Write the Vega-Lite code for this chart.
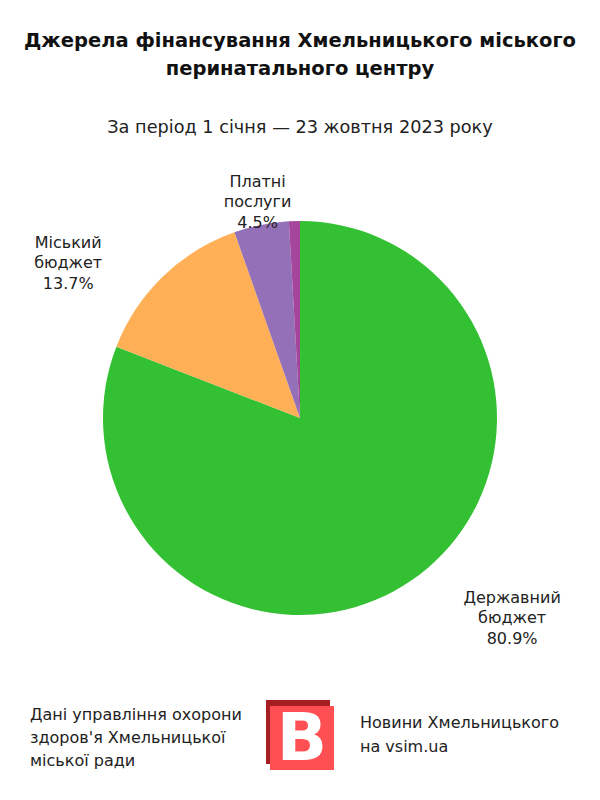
{
  "$schema": "https://vega.github.io/schema/vega-lite/v6.json",
  "background": "white",
  "padding": {"left": 0, "right": 0, "top": 30, "bottom": 0},
  "config": {
    "view": {"stroke": null},
    "concat": {"spacing": 0},
    "font": "DejaVu Sans",
    "text": {"font": "DejaVu Sans", "color": "#222222"}
  },
  "datasets": {
    "sources": [
      {"name": "Державний бюджет", "share": 80.9, "rank": 1},
      {"name": "Міський бюджет", "share": 13.7, "rank": 2},
      {"name": "Платні послуги", "share": 4.5, "rank": 3},
      {"name": "Інші надходження", "share": 0.9, "rank": 4}
    ],
    "footer": [
      {"block": "source", "text": "Дані управління охорони\nздоров'я Хмельницької\nміської ради"},
      {"block": "brand", "text": "Новини Хмельницького\nна vsim.ua"}
    ],
    "logo": [
      {"block": "logo", "text": "B"}
    ]
  },
  "vconcat": [
    {
      "title": {
        "text": ["Джерела фінансування Хмельницького міського", "перинатального центру"],
        "subtitle": "За період 1 січня — 23 жовтня 2023 року",
        "font": "DejaVu Sans",
        "fontSize": 19.5,
        "fontWeight": "bold",
        "color": "#111111",
        "lineHeight": 28,
        "subtitleFont": "DejaVu Sans",
        "subtitleFontSize": 17.7,
        "subtitleColor": "#222222",
        "subtitlePadding": 40,
        "anchor": "middle",
        "offset": 10
      },
      "width": 600,
      "height": 540,
      "data": {"name": "sources"},
      "layer": [
        {
          "mark": {"type": "arc", "outerRadius": 197},
          "encoding": {
            "theta": {"field": "share", "type": "quantitative", "stack": true},
            "order": {"field": "rank", "type": "quantitative"},
            "color": {
              "field": "name",
              "type": "nominal",
              "scale": {
                "domain": ["Державний бюджет", "Міський бюджет", "Платні послуги", "Інші надходження"],
                "range": ["#33c133", "#ffb056", "#9470b8", "#a4479c"]
              },
              "legend": null
            }
          }
        },
        {
          "transform": [
            {"calculate": "datum.name === 'Державний бюджет' ? datum.name + ' ' + format(datum.share, '.1f') + '%' : ''", "as": "lbl"}
          ],
          "mark": {"type": "text", "radius": 218, "dx": 89, "fontSize": 16, "lineBreak": " ", "lineHeight": 20.5, "align": "center", "baseline": "middle"},
          "encoding": {
            "theta": {"field": "share", "type": "quantitative", "stack": true},
            "order": {"field": "rank", "type": "quantitative"},
            "text": {"field": "lbl", "type": "nominal"}
          }
        },
        {
          "transform": [
            {"calculate": "datum.name === 'Міський бюджет' ? datum.name + ' ' + format(datum.share, '.1f') + '%' : ''", "as": "lbl"}
          ],
          "mark": {"type": "text", "radius": 244, "dx": -62, "fontSize": 16, "lineBreak": " ", "lineHeight": 20.5, "align": "center", "baseline": "middle"},
          "encoding": {
            "theta": {"field": "share", "type": "quantitative", "stack": true},
            "order": {"field": "rank", "type": "quantitative"},
            "text": {"field": "lbl", "type": "nominal"}
          }
        },
        {
          "transform": [
            {"calculate": "datum.name === 'Платні послуги' ? datum.name + ' ' + format(datum.share, '.1f') + '%' : ''", "as": "lbl"}
          ],
          "mark": {"type": "text", "radius": 241, "dx": 5, "fontSize": 16, "lineBreak": " ", "lineHeight": 20.5, "align": "center", "baseline": "middle"},
          "encoding": {
            "theta": {"field": "share", "type": "quantitative", "stack": true},
            "order": {"field": "rank", "type": "quantitative"},
            "text": {"field": "lbl", "type": "nominal"}
          }
        }
      ]
    },
    {
      "width": 600,
      "height": 100,
      "data": {"name": "footer"},
      "layer": [
        {
          "transform": [{"filter": "datum.block === 'source'"}],
          "mark": {"type": "text", "align": "left", "baseline": "middle", "fontSize": 16, "lineBreak": "\n", "lineHeight": 23, "color": "#222222", "dy": -23},
          "encoding": {
            "x": {"field": "block", "type": "nominal", "scale": {"type": "point", "domain": ["source", "brand"], "range": [30, 360], "padding": 0}, "axis": null},
            "text": {"field": "text", "type": "nominal"}
          }
        },
        {
          "transform": [{"filter": "datum.block === 'brand'"}],
          "mark": {"type": "text", "align": "left", "baseline": "middle", "fontSize": 16, "lineBreak": "\n", "lineHeight": 24, "color": "#222222", "dy": -15},
          "encoding": {
            "x": {"field": "block", "type": "nominal", "scale": {"type": "point", "domain": ["source", "brand"], "range": [30, 360], "padding": 0}, "axis": null},
            "text": {"field": "text", "type": "nominal"}
          }
        },
        {
          "data": {"name": "logo"},
          "layer": [
            {
              "mark": {"type": "point", "shape": "square", "filled": true, "size": 4100, "color": "#a51f22", "opacity": 1, "xOffset": -4, "yOffset": -6},
              "encoding": {
                "x": {"field": "block", "type": "nominal", "scale": {"type": "point", "domain": ["logo"], "range": [0, 604]}, "axis": null}
              }
            },
            {
              "mark": {"type": "point", "shape": "square", "filled": true, "size": 4100, "color": "#ff4f52", "opacity": 1},
              "encoding": {
                "x": {"field": "block", "type": "nominal", "scale": {"type": "point", "domain": ["logo"], "range": [0, 604]}, "axis": null}
              }
            },
            {
              "mark": {"type": "text", "font": "DejaVu Sans", "fontWeight": "bold", "fontSize": 66, "color": "#ffffff", "align": "center", "baseline": "middle", "dy": 2},
              "encoding": {
                "x": {"field": "block", "type": "nominal", "scale": {"type": "point", "domain": ["logo"], "range": [0, 604]}, "axis": null},
                "text": {"field": "text", "type": "nominal"}
              }
            }
          ]
        }
      ],
      "resolve": {"scale": {"x": "independent"}}
    }
  ]
}
